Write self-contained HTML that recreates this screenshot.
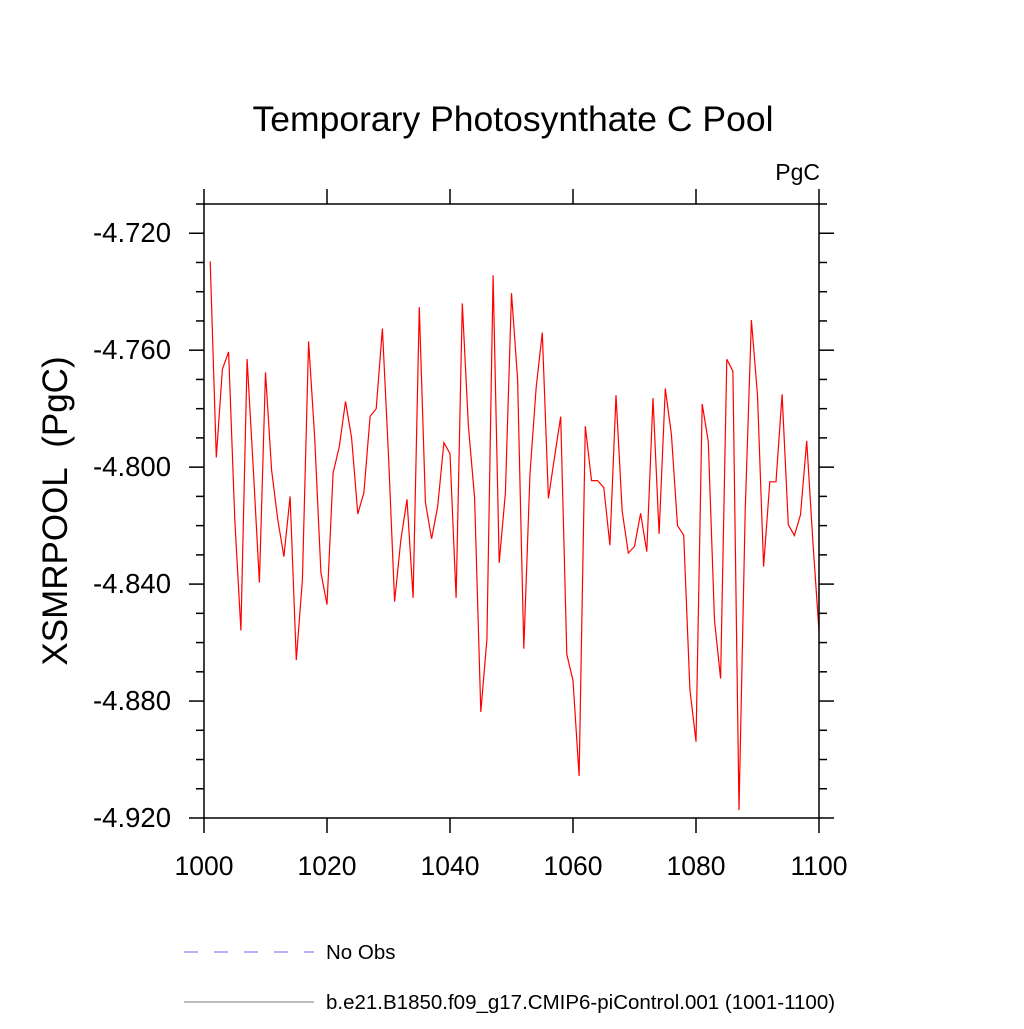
<!DOCTYPE html>
<html><head><meta charset="utf-8"><style>
html,body{margin:0;padding:0;background:#fff;}
svg text{font-family:"Liberation Sans",Arial,sans-serif;}
</style></head><body>
<svg id="chart" width="1024" height="1024" xmlns="http://www.w3.org/2000/svg">
<text x="513" y="131" font-size="35.5" text-anchor="middle">Temporary Photosynthate C Pool</text>
<text x="820" y="180" font-size="23" text-anchor="end">PgC</text>
<text transform="translate(67,511) rotate(-90)" font-size="35" text-anchor="middle">XSMRPOOL&#160; (PgC)</text>
<g id="axes"></g>
<polyline id="series" fill="none" stroke="#ff0000" stroke-width="1.2"/>
<rect x="204" y="204" width="615" height="614" fill="none" stroke="#000" stroke-width="1.5"/>
<g>
<line x1="184" y1="952" x2="314" y2="952" stroke="#6666ff" stroke-width="1" stroke-dasharray="14,16"/>
<text x="326" y="959" font-size="20.5">No Obs</text>
<line x1="184" y1="1002" x2="314" y2="1002" stroke="#777" stroke-width="1"/>
<text x="326" y="1009" font-size="20.5">b.e21.B1850.f09_g17.CMIP6-piControl.001 (1001-1100)</text>
</g>
</svg>
<script>
const years = []; for (let y = 1001; y <= 1100; y++) years.push(y);
const values = [
-4.7296,-4.7967,-4.7665,-4.7606,-4.818,-4.8558,-4.763,-4.800,-4.8395,-4.7676,
-4.801,-4.818,-4.8306,-4.810,-4.866,-4.8385,-4.757,-4.790,-4.836,-4.847,
-4.802,-4.793,-4.7775,-4.790,-4.816,-4.8087,-4.7826,-4.780,-4.7526,-4.796,
-4.846,-4.825,-4.811,-4.8447,-4.7453,-4.812,-4.8245,-4.8134,-4.7916,-4.7954,
-4.8447,-4.744,-4.786,-4.8105,-4.8837,-4.859,-4.7344,-4.8327,-4.8088,-4.7405,
-4.7699,-4.8621,-4.8022,-4.773,-4.754,-4.8107,-4.7967,-4.7827,-4.864,-4.873,
-4.9056,-4.786,-4.8046,-4.8046,-4.807,-4.8267,-4.7754,-4.8151,-4.8294,-4.8271,
-4.8158,-4.8289,-4.7764,-4.8228,-4.7731,-4.7888,-4.820,-4.8233,-4.876,-4.8939,
-4.7784,-4.7913,-4.8524,-4.8723,-4.7631,-4.7672,-4.9173,-4.815,-4.7497,-4.7754,
-4.834,-4.805,-4.805,-4.7751,-4.8197,-4.8234,-4.8163,-4.791,-4.8256,-4.856];
const xTicks = [1000,1020,1040,1060,1080,1100];
const yTicks = [-4.72,-4.76,-4.80,-4.84,-4.88,-4.92];
const yLabels = ["-4.720","-4.760","-4.800","-4.840","-4.880","-4.920"];
const X0=204,X1=819,Y0=818,Y1=204;
const xMin=1000,xMax=1100,yMin=-4.92,yMax=-4.71;
const sx=v=>X0+(v-xMin)/(xMax-xMin)*(X1-X0);
const sy=v=>Y0-(v-yMin)/(yMax-yMin)*(Y0-Y1);
const NS="http://www.w3.org/2000/svg";
const axes=document.getElementById('axes');
function ln(x1,y1,x2,y2,name){const l=document.createElementNS(NS,'line');
l.setAttribute('x1',x1);l.setAttribute('y1',y1);l.setAttribute('x2',x2);l.setAttribute('y2',y2);
l.setAttribute('stroke','#000');l.setAttribute('stroke-width','1.5');


axes.appendChild(l);}
function tx(x,y,s,anchor,size,name){const t=document.createElementNS(NS,'text');
t.setAttribute('x',x);t.setAttribute('y',y);t.setAttribute('font-size',size);t.setAttribute('text-anchor',anchor);t.textContent=s;


axes.appendChild(t);}
xTicks.forEach(v=>{const x=sx(v);ln(x,Y0,x,Y0+15,'x-tick');ln(x,Y1,x,Y1-15,'x-tick-top');tx(x,875,String(v),'middle','26.5','x-tick-label');});
yTicks.forEach((v,i)=>{const y=sy(v);ln(X0,y,X0-15,y,'y-tick');ln(X1,y,X1+15,y,'y-tick-right');tx(171,y+9,yLabels[i],'end','27.5','y-tick-label');});
for(let k=0;k<=21;k++){const v=-4.92+k*0.01;if(k%4===0)continue;const y=sy(v);ln(X0,y,X0-8,y,'y-minor-tick');ln(X1,y,X1+8,y,'y-minor-tick-right');}
document.getElementById('series').setAttribute('points',years.map((y,i)=>sx(y).toFixed(1)+','+sy(values[i]).toFixed(1)).join(' '));
</script>
</body></html>
